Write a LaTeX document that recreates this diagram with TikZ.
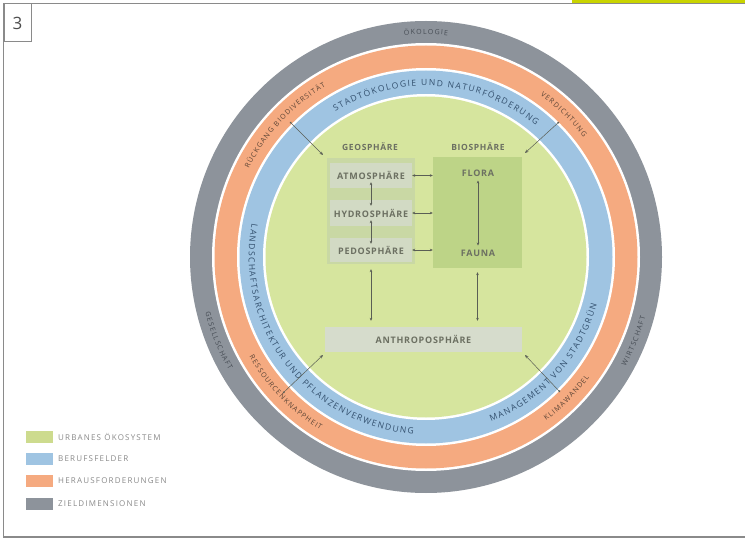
\documentclass[tikz,border=0pt]{standalone}
\usepackage{fontspec}
\setmainfont{Open Sans}
\setsansfont{Open Sans}
\newfontfamily\rfont{Open Sans}
\newfontfamily\lfont[LetterSpace=8]{Open Sans}
\newfontfamily\legfont[LetterSpace=15]{Open Sans}
\usetikzlibrary{decorations.text,arrows.meta}
\definecolor{ringgray}{HTML}{8D939B}
\definecolor{ringorange}{HTML}{F5AA80}
\definecolor{ringblue}{HTML}{9FC4E2}
\definecolor{ecogreen}{HTML}{D6E59E}
\definecolor{geofill}{HTML}{C9D8A4}
\definecolor{subfill}{HTML}{D2DAC4}
\definecolor{biofill}{HTML}{BDD487}
\definecolor{anthfill}{HTML}{D6DCCC}
\definecolor{gtxt}{HTML}{464C54}
\definecolor{otxt}{HTML}{5C4536}
\definecolor{btxt}{HTML}{33506E}
\definecolor{itxt}{HTML}{6C7062}
\definecolor{arrowgray}{HTML}{5A5E55}
\definecolor{framegray}{HTML}{8A8A8A}
\definecolor{legtxt}{HTML}{8A8A8A}
\definecolor{topbar}{HTML}{C9D400}
\def\q{\kern0.17em}
\def\w{\kern0.55em}
\newcommand\cwtext[3]{%
  \pgfmathsetmacro\sa{#2+80}\pgfmathsetmacro\ea{#2-80}%
  \path[decorate,decoration={text along path,text align=center,text={#3}}]
    (426,282) ++(\sa:#1) arc[start angle=\sa,end angle=\ea,radius=#1];}
\newcommand\ccwtext[3]{%
  \pgfmathsetmacro\sa{#2-80}\pgfmathsetmacro\ea{#2+80}%
  \path[decorate,decoration={text along path,text align=center,text={#3}}]
    (426,282) ++(\sa:#1) arc[start angle=\sa,end angle=\ea,radius=#1];}
\tikzset{
  sublbl/.style={fill=subfill,inner sep=0pt,minimum width=82,font=\lfont\bfseries\fontsize{9}{10}\selectfont,text=itxt},
  lbl/.style={inner sep=1.5pt,font=\lfont\bfseries\fontsize{8.5}{9}\selectfont,text=itxt},
  conn/.style={draw=arrowgray,line width=0.5pt,{Stealth[length=3pt,width=2.6pt]}-{Stealth[length=3pt,width=2.6pt]}},
  diag/.style={draw=arrowgray,line width=0.5pt,{Circle[length=2pt]}-{Stealth[length=3.5pt,width=3pt]}},
  swatch/.style={minimum width=27,minimum height=12,inner sep=0pt},
  legtext/.style={anchor=west,inner sep=0pt,font=\legfont\fontsize{8}{9}\selectfont,text=legtxt},
}
\begin{document}
\begin{tikzpicture}[x=1pt,y=1pt]
\fill[white] (0,0) rectangle (745,539);
\useasboundingbox (0,0) rectangle (745,539);
% frame
\fill[topbar] (572,536) rectangle (745,539);
\draw[framegray,line width=1.3pt] (745,535.5) -- (3.5,535.5) -- (3.5,2) -- (745,2);
\node[draw=framegray,line width=1pt,minimum width=27,minimum height=38,inner sep=0pt,anchor=north west,
  font=\fontsize{17}{18}\selectfont,text=black!70] (num) at (3.5,535.5) {3};
% rings
\fill[ringgray] (426,282) circle[radius=236];
\fill[white] (426,282) circle[radius=214];
\fill[ringorange] (426,282) circle[radius=211.5];
\fill[white] (426,282) circle[radius=189];
\fill[ringblue] (426,282) circle[radius=186.5];
\fill[white] (426,282) circle[radius=163];
\fill[ecogreen] (426,282) circle[radius=160.5];
% ring texts
\def\gfmt{|\rfont\fontsize{7}{8}\selectfont\color{gtxt}|}
\def\ofmt{|\rfont\fontsize{7}{8}\selectfont\color{otxt}|}
\def\bfmt{|\rfont\fontsize{8.5}{10}\selectfont\color{btxt}|}
\cwtext{222.5}{90}{\gfmt Ö{\q}K{\q}O{\q}L{\q}O{\q}G{\q}I{\q}E}
\ccwtext{227.5}{202}{\gfmt G{\q}E{\q}S{\q}E{\q}L{\q}L{\q}S{\q}C{\q}H{\q}A{\q}F{\q}T}
\ccwtext{227.5}{338}{\gfmt W{\q}I{\q}R{\q}T{\q}S{\q}C{\q}H{\q}A{\q}F{\q}T}
\cwtext{197.8}{137}{\ofmt R{\q}Ü{\q}C{\q}K{\q}G{\q}A{\q}N{\q}G{\w}B{\q}I{\q}O{\q}D{\q}I{\q}V{\q}E{\q}R{\q}S{\q}I{\q}T{\q}Ä{\q}T}
\cwtext{197.8}{46}{\ofmt V{\q}E{\q}R{\q}D{\q}I{\q}C{\q}H{\q}T{\q}U{\q}N{\q}G}
\ccwtext{202.8}{224}{\ofmt R{\q}E{\q}S{\q}S{\q}O{\q}U{\q}R{\q}C{\q}E{\q}N{\q}K{\q}N{\q}A{\q}P{\q}P{\q}H{\q}E{\q}I{\q}T}
\ccwtext{202.8}{315}{\ofmt K{\q}L{\q}I{\q}M{\q}A{\q}W{\q}A{\q}N{\q}D{\q}E{\q}L}
\cwtext{171.2}{86}{\bfmt S{\q}T{\q}A{\q}D{\q}T{\q}Ö{\q}K{\q}O{\q}L{\q}O{\q}G{\q}I{\q}E{\w}U{\q}N{\q}D{\w}N{\q}A{\q}T{\q}U{\q}R{\q}F{\q}Ö{\q}R{\q}D{\q}E{\q}R{\q}U{\q}N{\q}G}
\ccwtext{177.3}{217.5}{\bfmt L{\q}A{\q}N{\q}D{\q}S{\q}C{\q}H{\q}A{\q}F{\q}T{\q}S{\q}A{\q}R{\q}C{\q}H{\q}I{\q}T{\q}E{\q}K{\q}T{\q}U{\q}R{\w}U{\q}N{\q}D{\w}P{\q}F{\q}L{\q}A{\q}N{\q}Z{\q}E{\q}N{\q}V{\q}E{\q}R{\q}W{\q}E{\q}N{\q}D{\q}U{\q}N{\q}G}
\ccwtext{177.3}{318}{\bfmt M{\q}A{\q}N{\q}A{\q}G{\q}E{\q}M{\q}E{\q}N{\q}T{\w}V{\q}O{\q}N{\w}S{\q}T{\q}A{\q}D{\q}T{\q}G{\q}R{\q}Ü{\q}N}
% inner boxes
\node[fill=geofill,inner sep=0pt,minimum width=88,minimum height=106] (geo) at (371,328) {};
\node[fill=biofill,inner sep=0pt,minimum width=89,minimum height=111] (bio) at (477.5,326.5) {};
\node[sublbl,minimum height=25] (atmo) at (371,363.5) {ATMOSPHÄRE};
\node[sublbl,minimum height=26] (hydro) at (371,326) {HYDROSPHÄRE};
\node[sublbl,minimum height=24] (pedo) at (371,289) {PEDOSPHÄRE};
\node[lbl] (geol) at (370,392) {GEOSPHÄRE};
\node[lbl] (biol) at (478,392) {BIOSPHÄRE};
\node[lbl,font=\lfont\bfseries\fontsize{9}{10}\selectfont,inner sep=4pt] (flora) at (478,366) {FLORA};
\node[lbl,font=\lfont\bfseries\fontsize{9}{10}\selectfont,inner sep=4pt] (fauna) at (478,286) {FAUNA};
\node[fill=anthfill,inner sep=0pt,minimum width=197,minimum height=25,
  font=\lfont\bfseries\fontsize{9}{10}\selectfont,text=itxt] (anth) at (423.5,199.5) {ANTHROPOSPHÄRE};
% inner connectors
\draw[conn] (atmo.east) -- (atmo.east -| bio.west);
\draw[conn] (hydro.east) -- (hydro.east -| bio.west);
\draw[conn] (pedo.east) -- (pedo.east -| bio.west);
\draw[conn,shorten <=-6pt,shorten >=-6pt] (atmo.south) -- (hydro.north);
\draw[conn,shorten <=-6pt,shorten >=-6pt] (hydro.south) -- (pedo.north);
\draw[conn] (flora) -- (fauna);
\draw[conn,shorten <=5pt,shorten >=6pt] (geo.south) -- (geo.south |- anth.north);
\draw[conn,shorten <=4pt,shorten >=6pt] (bio.south) -- (bio.south |- anth.north);
% ring-to-centre connectors
\coordinate (tlT) at (290,417); \coordinate (tlH) at (323,384);
\coordinate (trT) at (559,417); \coordinate (trH) at (525,386);
\coordinate (blT) at (283,146); \coordinate (blH) at (323,184);
\coordinate (brT) at (560,147); \coordinate (brH) at (525,184);
\draw[diag] (tlT) -- (tlH);
\draw[diag] (trT) -- (trH);
\draw[diag] (blT) -- (blH);
\draw[diag] (brT) -- (brH);
% legend
\node[swatch,fill=ecogreen!90!olive] (lg1) at (39.5,102) {};
\node[swatch,fill=ringblue] (lg2) at (39.5,80) {};
\node[swatch,fill=ringorange] (lg3) at (39.5,58) {};
\node[swatch,fill=ringgray] (lg4) at (39.5,35.5) {};
\node[legtext] (lt1) at (58,102) {URBANES ÖKOSYSTEM};
\node[legtext] (lt2) at (58,80) {BERUFSFELDER};
\node[legtext] (lt3) at (58,58) {HERAUSFORDERUNGEN};
\node[legtext] (lt4) at (58,35.5) {ZIELDIMENSIONEN};
\end{tikzpicture}
\end{document}
